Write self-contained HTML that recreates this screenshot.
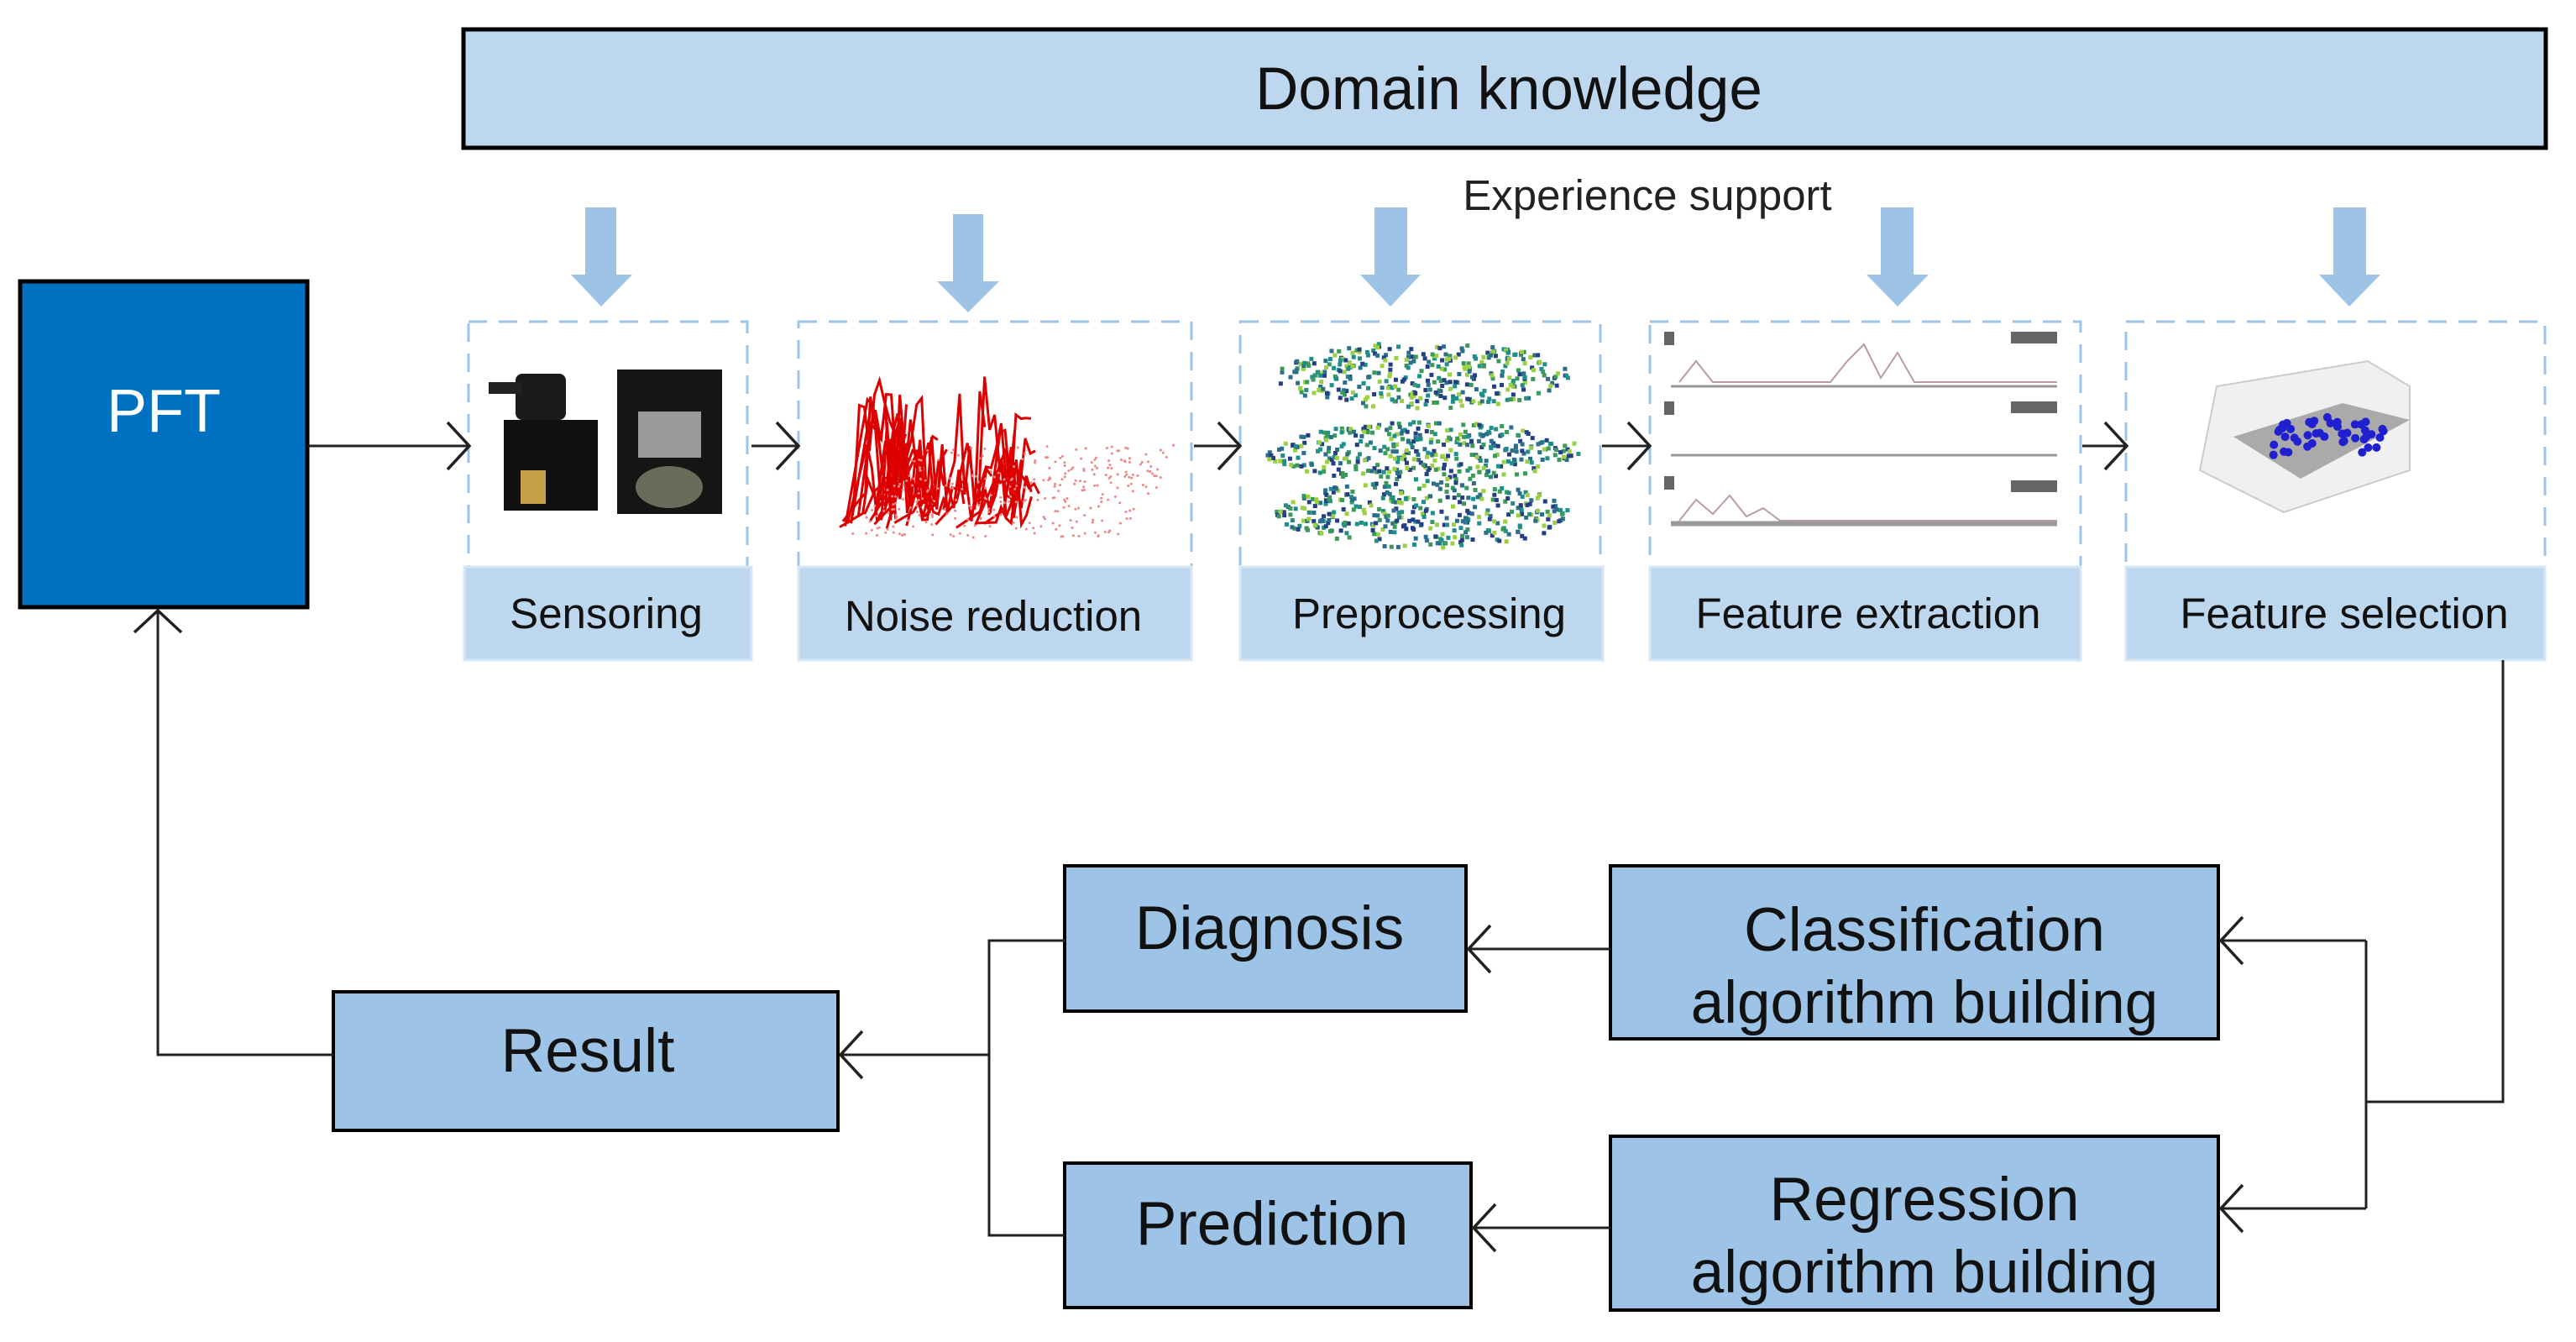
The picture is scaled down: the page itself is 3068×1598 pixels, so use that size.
<!DOCTYPE html>
<html><head><meta charset="utf-8"><style>
html,body{margin:0;padding:0;background:#fff;}
svg{display:block;}
text{font-family:"Liberation Sans",Arial,sans-serif;}
</style></head><body>
<svg id="s" width="3068" height="1598" viewBox="0 0 3068 1598" xmlns="http://www.w3.org/2000/svg">
<defs>
<marker id="ah" viewBox="0 0 30 60" refX="29" refY="30" markerWidth="30" markerHeight="60" markerUnits="userSpaceOnUse" orient="auto">
<path d="M2 2 L28 30 L2 58" fill="none" stroke="#222" stroke-width="3.5"/>
</marker>
</defs>
<!-- Domain knowledge -->
<rect x="552" y="35" width="2480" height="141" fill="#bdd7ee" stroke="#000" stroke-width="5"/>
<text x="1797" y="130" font-size="71" text-anchor="middle" fill="#111">Domain knowledge</text>
<text x="1962" y="250" font-size="51" text-anchor="middle" fill="#222">Experience support</text>
<!-- blue arrows -->
<g fill="#9dc3e6">
<path d="M697 247 H734 V327 H753 L716 365 L680 327 H697 Z"/>
<path d="M1135 255 H1171 V335 H1190 L1153 372 L1116 335 H1135 Z"/>
<path d="M1637 247 H1676 V327 H1692 L1656 365 L1620 327 H1637 Z"/>
<path d="M2240 247 H2279 V327 H2297 L2260 365 L2223 327 H2240 Z"/>
<path d="M2779 247 H2818 V327 H2835 L2798 365 L2762 327 H2779 Z"/>
</g>
<!-- PFT -->
<rect x="24" y="335" width="342" height="388" fill="#0070c0" stroke="#000" stroke-width="5"/>
<text x="195" y="514" font-size="72" text-anchor="middle" fill="#fff">PFT</text>
<!-- panels -->
<g fill="none" stroke="#9dc3e6" stroke-width="3" stroke-dasharray="22 14">
<rect x="558" y="383" width="332" height="292"/>
<rect x="951" y="383" width="468" height="292"/>
<rect x="1477" y="383" width="429" height="292"/>
<rect x="1965" y="383" width="513" height="292"/>
<rect x="2532" y="383" width="499" height="292"/>
</g>
<g fill="#bdd7ee" stroke="#d6e6f5" stroke-width="3">
<rect x="553" y="675" width="342" height="111"/>
<rect x="951" y="675" width="468" height="111"/>
<rect x="1477" y="675" width="432" height="111"/>
<rect x="1965" y="675" width="513" height="111"/>
<rect x="2532" y="675" width="499" height="111"/>
</g>
<g font-size="51" text-anchor="middle" fill="#111">
<text x="722" y="748">Sensoring</text>
<text x="1183" y="751">Noise reduction</text>
<text x="1702" y="748">Preprocessing</text>
<text x="2225" y="748">Feature extraction</text>
<text x="2792" y="748">Feature selection</text>
</g>
<!-- panel images -->
<g>
<rect x="614" y="445" width="60" height="55" rx="8" fill="#1a1a1a"/>
<rect x="582" y="455" width="40" height="14" fill="#222"/>
<rect x="600" y="500" width="112" height="108" fill="#111"/>
<rect x="620" y="560" width="30" height="40" fill="#c9a04a"/>
<rect x="735" y="440" width="125" height="172" fill="#151515"/>
<rect x="760" y="490" width="75" height="55" fill="#9a9a9a"/>
<ellipse cx="797" cy="580" rx="40" ry="25" fill="#6b6b5a"/>
</g>
<g id="noise" stroke="#d00" stroke-width="3" fill="none"></g>
<g id="pre"></g>
<g stroke="#999" stroke-width="3">
<line x1="1990" y1="460" x2="2450" y2="460"/><line x1="1990" y1="542" x2="2450" y2="542"/>
<line x1="1990" y1="622" x2="2450" y2="622"/><line x1="1990" y1="625" x2="2450" y2="625"/>
</g>
<g fill="#666"><rect x="1982" y="395" width="12" height="16"/><rect x="2395" y="395" width="55" height="14"/>
<rect x="1982" y="478" width="12" height="16"/><rect x="2395" y="478" width="55" height="14"/>
<rect x="1982" y="567" width="12" height="16"/><rect x="2395" y="572" width="55" height="14"/></g>
<polyline points="2000,455 2020,430 2040,455 2180,455 2200,430 2220,410 2240,450 2260,420 2280,455 2450,455" fill="none" stroke="#b9a" stroke-width="2"/>
<polyline points="2000,620 2020,595 2040,612 2060,590 2080,615 2100,605 2120,620 2450,620" fill="none" stroke="#b9a" stroke-width="2"/>
<g>
<path d="M2640 460 L2820 430 L2870 460 L2870 560 L2720 610 L2620 560 Z" fill="#f0f0f0" stroke="#ccc" stroke-width="2"/>
<path d="M2660 520 L2790 480 L2870 500 L2740 570 Z" fill="#aaa"/>
</g>
<g id="fs" fill="#2020d0"></g>
<!-- flow arrows top -->
<g stroke="#222" stroke-width="3" fill="none" marker-end="url(#ah)">
<line x1="367" y1="531" x2="560" y2="531"/>
<line x1="895" y1="531" x2="952" y2="531"/>
<line x1="1422" y1="531" x2="1478" y2="531"/>
<line x1="1908" y1="531" x2="1966" y2="531"/>
<line x1="2480" y1="531" x2="2534" y2="531"/>
</g>
<!-- bottom boxes -->
<g fill="#9dc3e6" stroke="#000" stroke-width="4">
<rect x="397" y="1181" width="601" height="165"/>
<rect x="1268" y="1031" width="478" height="173"/>
<rect x="1918" y="1031" width="724" height="206"/>
<rect x="1268" y="1385" width="484" height="172"/>
<rect x="1918" y="1353" width="724" height="207"/>
</g>
<g font-size="73" text-anchor="middle" fill="#111">
<text x="700" y="1276">Result</text>
<text x="1512" y="1130">Diagnosis</text>
<text x="2292" y="1132">Classification</text>
<text x="2292" y="1218" font-size="71">algorithm building</text>
<text x="1515" y="1482">Prediction</text>
<text x="2292" y="1453">Regression</text>
<text x="2292" y="1539" font-size="71">algorithm building</text>
</g>
<!-- bottom connectors -->
<g stroke="#222" stroke-width="3" fill="none">
<polyline points="2981,786 2981,1312 2818,1312"/>
<line x1="2818" y1="1120" x2="2818" y2="1439"/>
<line x1="2818" y1="1120" x2="2644" y2="1120" marker-end="url(#ah)"/>
<line x1="2818" y1="1439" x2="2644" y2="1439" marker-end="url(#ah)"/>
<line x1="1918" y1="1130" x2="1748" y2="1130" marker-end="url(#ah)"/>
<line x1="1918" y1="1462" x2="1754" y2="1462" marker-end="url(#ah)"/>
<polyline points="1268,1120 1178,1120 1178,1471 1268,1471"/>
<line x1="1178" y1="1256" x2="1000" y2="1256" marker-end="url(#ah)"/>
<polyline points="397,1256 188,1256 188,726" marker-end="url(#ah)"/>
</g>
</svg>
<script>
(function(){
var ns="http://www.w3.org/2000/svg";var seed=7;function r(){seed=(seed*16807)%2147483647;return seed/2147483647;}
function el(g,t,a){var e=document.createElementNS(ns,t);for(var k in a)e.setAttribute(k,a[k]);document.getElementById(g).appendChild(e);}
for(var i=0;i<30;i++){var x=1000+r()*180,y=600+r()*30,h=40+r()*130;var d="M"+x+" "+y;for(var j=0;j<8;j++){d+=" L"+(x+j*6+(y-600))+" "+(y-r()*h);}el("noise","path",{d:d});}
for(var i=0;i<300;i++){var t=r(),u=r();var x=1010+t*320+u*90,y=640-u*110;el("noise","circle",{cx:x,cy:y,r:1.5,fill:"#e88",stroke:"none"});}
var cols=["#2b6f8a","#3b9a5a","#9bd040","#253f85","#1f8f8a"];
for(var i=0;i<1100;i++){var band=Math.floor(r()*3);var cy=[445,535,610][band];var a=r()*6.283,rr=Math.sqrt(r());var cx=1692+Math.cos(a)*rr*(band==1?190:175);var dy=Math.sin(a)*rr*(band==1?35:40);el("pre","rect",{x:cx,y:cy+dy,width:5,height:5,fill:cols[Math.floor(r()*5)]});}
for(var i=0;i<45;i++){el("fs","circle",{cx:2700+r()*140,cy:500+r()*45-(i%9)*2,r:5});}
})();
</script>
</body></html>
